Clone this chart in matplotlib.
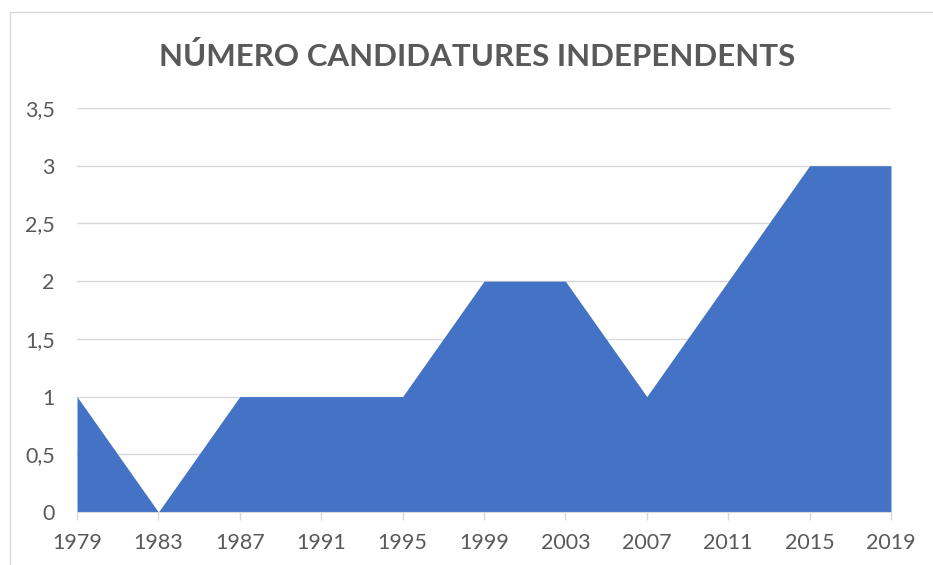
import matplotlib
matplotlib.use("Agg")
import matplotlib.pyplot as plt
from matplotlib.lines import Line2D

years = [1979, 1983, 1987, 1991, 1995, 1999, 2003, 2007, 2011, 2015, 2019]
values = [1, 0, 1, 1, 1, 2, 2, 1, 2, 3, 3]
yticks = [0, 0.5, 1, 1.5, 2, 2.5, 3, 3.5]
ytick_labels = ["0", "0,5", "1", "1,5", "2", "2,5", "3", "3,5"]
title = "NÚMERO CANDIDATURES INDEPENDENTS"

plt.rcParams['font.family'] = ['Lato', 'DejaVu Sans']
W, H = 933, 565
fig = plt.figure(figsize=(W / 100, H / 100), dpi=100)
ax = fig.add_axes([77 / W, (H - 512) / H, (891 - 77) / W, (512 - 108) / H])

x = list(range(len(years)))
ax.fill_between(x, values, 0, color="#4472C4", linewidth=0, zorder=3)
ax.set_xlim(0, len(years) - 1)
ax.set_ylim(0, 3.5)
ax.set_yticks(yticks)
ax.set_yticklabels(ytick_labels)
ax.set_xticks(x)
ax.set_xticklabels([str(y) for y in years])
ax.grid(axis="y", color="#D9D9D9", linewidth=1, zorder=0)
for s in ["top", "right", "left"]:
    ax.spines[s].set_visible(False)
ax.spines["bottom"].set_color("#D9D9D9")
ax.spines["bottom"].set_zorder(4)
ax.tick_params(axis="y", length=0, pad=16, labelsize=15.5, labelcolor="#595959")
ax.tick_params(axis="x", length=6, width=1, color="#D9D9D9", pad=9,
               labelsize=15.5, labelcolor="#595959")

fig.text(477 / W, 1 - 56 / H, title, ha="center", va="center",
         fontsize=22.5, fontweight="bold", color="#595959")

# chart border (left and top visible)
fig.add_artist(Line2D([9.5 / W, 9.5 / W], [0, 1 - 11.5 / H], color="#D9D9D9",
                      linewidth=1, transform=fig.transFigure))
fig.add_artist(Line2D([9.5 / W, 1], [1 - 11.5 / H, 1 - 11.5 / H], color="#D9D9D9",
                      linewidth=1, transform=fig.transFigure))

fig.savefig("out.png", dpi=100)
